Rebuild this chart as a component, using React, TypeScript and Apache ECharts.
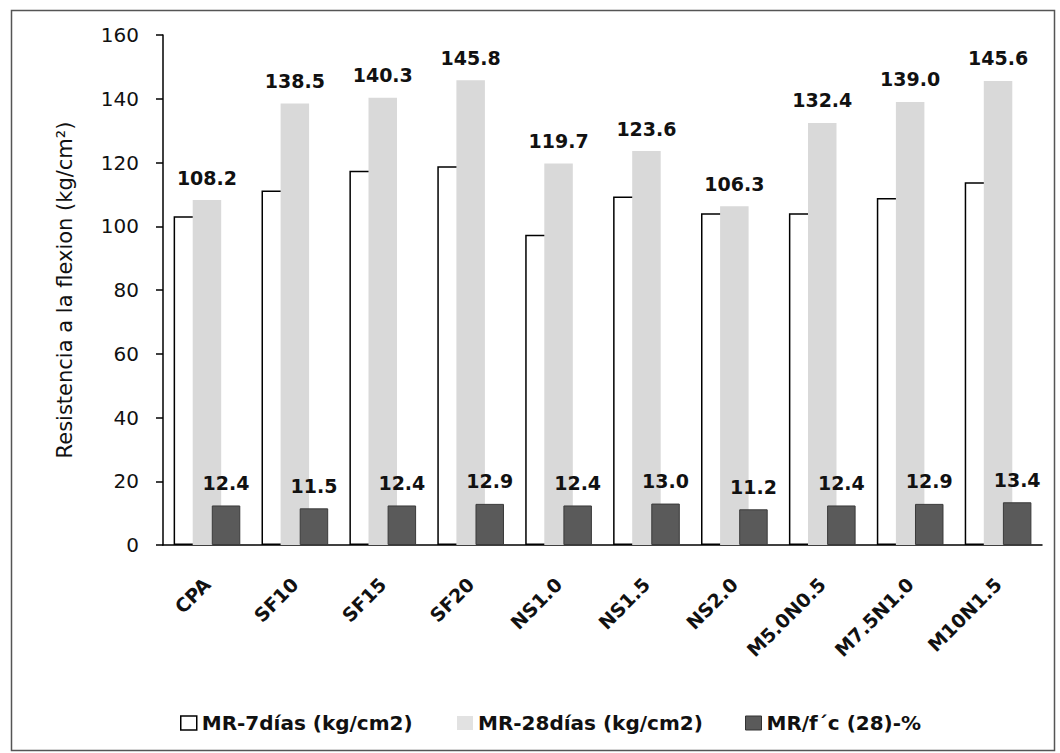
import React, { useEffect, useRef } from "react";
import * as echarts from "echarts";

// Mix designs along the category axis
const categories = [
  "CPA", "SF10", "SF15", "SF20", "NS1.0", "NS1.5", "NS2.0", "M5.0N0.5", "M7.5N1.0", "M10N1.5",
];

// Flexural strength at 7 days (kg/cm2)
const mr7 = [103.1, 111.2, 117.4, 118.8, 97.3, 109.3, 104.1, 104.1, 108.9, 113.8];

// Flexural strength at 28 days (kg/cm2)
const mr28 = [108.2, 138.5, 140.3, 145.8, 119.7, 123.6, 106.3, 132.4, 139.0, 145.6];

// MR / f'c ratio at 28 days (%)
const ratio = [12.4, 11.5, 12.4, 12.9, 12.4, 13.0, 11.2, 12.4, 12.9, 13.4];

const yTicks = { min: 0, max: 160, interval: 20 };

const names = ["MR-7días (kg/cm2)", "MR-28días (kg/cm2)", "MR/f´c (28)-%"];

const FONT = "DejaVu Sans";

export default function App() {
  const ref = useRef<HTMLDivElement>(null);

  useEffect(() => {
    if (!ref.current) return;
    const chart = echarts.init(ref.current, null, { renderer: "svg" });

    const valueLabel = {
      show: true,
      position: "top",
      distance: 13,
      fontFamily: FONT,
      fontWeight: "bold",
      fontSize: 19,
      color: "#111",
      formatter: (p: any) => Number(p.value).toFixed(1),
    };

    const legendBase = {
      orient: "horizontal",
      top: 708,
      itemWidth: 16,
      itemHeight: 14,
      itemGap: 6,
      icon: "rect",
      textStyle: { fontFamily: FONT, fontWeight: "bold", fontSize: 20, color: "#111" },
      selectedMode: false,
    };

    chart.setOption({
      animation: false,
      backgroundColor: "#fff",
      grid: { left: 163, right: 18, top: 35, bottom: 208, containLabel: false },
      legend: [
        { ...legendBase, left: 175, data: [names[0]], itemStyle: { color: "#fff", borderColor: "#000", borderWidth: 1.5 } },
        { ...legendBase, left: 452, data: [names[1]], itemStyle: { color: "#e2e2e2", borderWidth: 0 } },
        { ...legendBase, left: 740, data: [names[2]], itemStyle: { color: "#5a5a5a", borderColor: "#333", borderWidth: 1 } },
      ],
      xAxis: {
        type: "category",
        data: categories,
        axisLine: { lineStyle: { color: "#000", width: 1.5 } },
        axisTick: { show: false },
        axisLabel: {
          rotate: 45,
          margin: 36,
          fontFamily: FONT,
          fontWeight: "bold",
          fontSize: 19,
          color: "#111",
          interval: 0,
        },
      },
      yAxis: {
        type: "value",
        min: yTicks.min,
        max: yTicks.max,
        interval: yTicks.interval,
        name: "Resistencia a la flexion (kg/cm²)",
        nameLocation: "middle",
        nameGap: 88,
        nameTextStyle: { fontFamily: FONT, fontSize: 21, color: "#111" },
        axisLine: { show: true, lineStyle: { color: "#000", width: 1.5 } },
        axisTick: { show: true, length: 7, lineStyle: { color: "#000", width: 1.5 } },
        axisLabel: { margin: 24, fontFamily: FONT, fontSize: 20, color: "#111" },
        splitLine: { show: false },
      },
      series: [
        {
          name: names[0],
          type: "bar",
          data: mr7,
          barWidth: 28.5,
          barGap: "-33%",
          itemStyle: { color: "#fff", borderColor: "#000", borderWidth: 1.5 },
        },
        {
          name: names[1],
          type: "bar",
          data: mr28,
          barWidth: 28.5,
          barGap: "-33%",
          itemStyle: { color: "#d9d9d9" },
          label: valueLabel,
        },
        {
          name: names[2],
          type: "bar",
          data: ratio,
          barWidth: 28.5,
          barGap: "-33%",
          itemStyle: { color: "#5a5a5a", borderColor: "#3a3a3a", borderWidth: 1 },
          label: valueLabel,
        },
      ],
      graphic: [
        {
          type: "rect",
          left: 9,
          top: 8,
          shape: { x: 0, y: 0, width: 1043, height: 740 },
          style: { fill: "none", stroke: "#555", lineWidth: 1.5 },
          silent: true,
        },
      ],
    });

    return () => chart.dispose();
  }, []);

  return (
    <div
      ref={ref}
      style={{ position: "absolute", left: 0, top: 0, width: 1060, height: 753 }}
    />
  );
}
